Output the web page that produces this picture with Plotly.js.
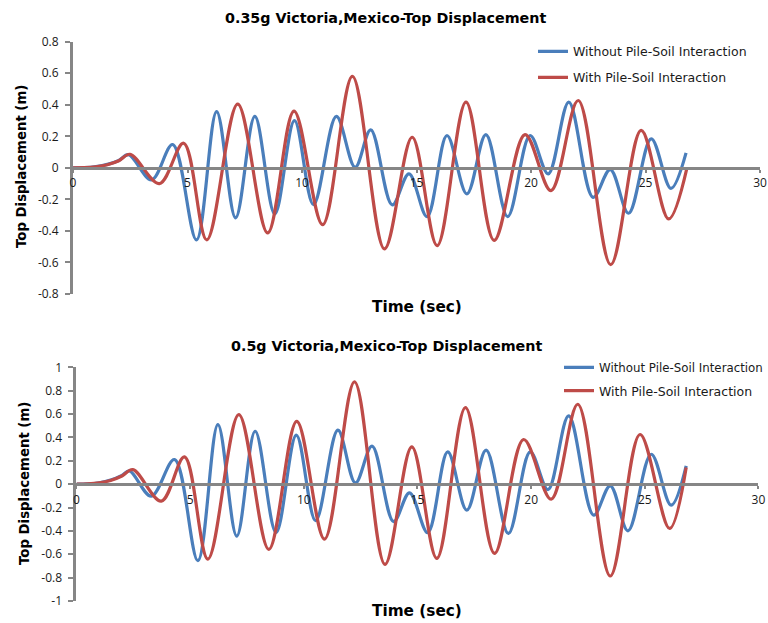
<!DOCTYPE html>
<html>
<head>
<meta charset="utf-8">
<script src="https://cdn.plot.ly/plotly-3.0.1.min.js"></script>
<style>html,body{margin:0;padding:0;background:#fff;}#chart{width:768px;height:623px;}</style>
</head>
<body>
<div id="chart"></div>
<script>
// ---- Data (time in s, displacement in m) ----
// Chart 1: 0.35g
var topWithoutT = [0, 0.5, 1, 1.5, 2, 2.42, 3.43, 4.35, 5.39, 6.27, 7.1, 7.94, 8.81, 9.67, 10.5, 11.5, 12.32, 13.0, 13.94, 14.67, 15.46, 16.33, 17.2, 18.03, 18.98, 19.96, 20.75, 21.65, 22.71, 23.46, 24.26, 25.25, 26.11, 26.77];
var topWithoutV = [0, 0.001, 0.008, 0.022, 0.047, 0.083, -0.076, 0.148, -0.457, 0.357, -0.317, 0.326, -0.292, 0.30, -0.233, 0.326, 0.004, 0.241, -0.235, -0.038, -0.31, 0.205, -0.165, 0.211, -0.309, 0.205, -0.038, 0.417, -0.187, -0.011, -0.288, 0.184, -0.13, 0.095];
var topWithT = [0, 0.5, 1, 1.5, 2, 2.49, 3.77, 4.83, 5.84, 7.19, 8.5, 9.65, 10.9, 12.2, 13.6, 14.81, 15.9, 17.16, 18.39, 19.74, 20.87, 22.06, 23.48, 24.81, 26.01, 26.81];
var topWithV = [0, 0.001, 0.007, 0.02, 0.045, 0.086, -0.10, 0.156, -0.457, 0.404, -0.413, 0.36, -0.36, 0.58, -0.514, 0.194, -0.493, 0.417, -0.46, 0.211, -0.144, 0.427, -0.614, 0.237, -0.324, 0.0];

// Chart 2: 0.5g
var botWithoutT = [0, 0.5, 1, 1.5, 2, 2.33, 3.29, 4.31, 5.34, 6.22, 7.05, 7.86, 8.78, 9.67, 10.52, 11.5, 12.27, 13.0, 13.95, 14.65, 15.45, 16.33, 17.17, 18.02, 19.0, 19.96, 20.74, 21.65, 22.75, 23.48, 24.26, 25.28, 26.16, 26.82];
var botWithoutV = [0, 0.002, 0.012, 0.035, 0.075, 0.114, -0.103, 0.211, -0.655, 0.51, -0.444, 0.453, -0.413, 0.419, -0.313, 0.462, 0.011, 0.325, -0.32, -0.074, -0.416, 0.276, -0.222, 0.291, -0.422, 0.276, -0.046, 0.584, -0.265, -0.014, -0.399, 0.256, -0.18, 0.157];
var botWithT = [0, 0.5, 1, 1.5, 2, 2.48, 3.73, 4.75, 5.78, 7.14, 8.46, 9.69, 10.91, 12.23, 13.57, 14.75, 15.85, 17.11, 18.39, 19.67, 20.88, 22.05, 23.48, 24.79, 26.09, 26.82];
var botWithV = [0, 0.002, 0.011, 0.032, 0.07, 0.125, -0.145, 0.233, -0.641, 0.595, -0.558, 0.538, -0.47, 0.875, -0.687, 0.319, -0.635, 0.655, -0.593, 0.382, -0.128, 0.684, -0.786, 0.425, -0.379, 0.143];

var seriesNames = ['Without Pile-Soil Interaction', 'With Pile-Soil Interaction'];
var chartTitles = ['0.35g Victoria,Mexico-Top Displacement', '0.5g Victoria,Mexico-Top Displacement'];
var xTitle = 'Time (sec)';
var yTitle = 'Top Displacement (m)';
var xTickVals = [0, 5, 10, 15, 20, 25, 30];
var yTickVals1 = [-0.8, -0.6, -0.4, -0.2, 0, 0.2, 0.4, 0.6, 0.8];
var yTickText1 = ['-0.8', '-0.6', '-0.4', '-0.2', '0', '0.2', '0.4', '0.6', '0.8'];
var yTickVals2 = [-1, -0.8, -0.6, -0.4, -0.2, 0, 0.2, 0.4, 0.6, 0.8, 1];
var yTickText2 = ['-1', '-0.8', '-0.6', '-0.4', '-0.2', '0', '0.2', '0.4', '0.6', '0.8', '1'];

// ---- Styles ----
var BLUE = '#4A7EBB', RED = '#BE4B48', AXIS = '#868686';
var FONT = 'Open Sans, Liberation Sans, sans-serif';
var TFONT = 'DejaVu Sans, sans-serif';

function line(t, v, name, color, xa, ya, leg) {
  return {x: t, y: v, name: name, type: 'scatter', mode: 'lines', xaxis: xa, yaxis: ya,
    legend: leg, line: {color: color, width: 3.2, shape: 'spline', smoothing: 1}, hoverinfo: 'skip'};
}

var data = [
  line(topWithoutT, topWithoutV, seriesNames[0], BLUE, 'x', 'y', 'legend'),
  line(topWithT, topWithV, seriesNames[1], RED, 'x', 'y', 'legend2'),
  line(botWithoutT, botWithoutV, seriesNames[0], BLUE, 'x2', 'y2', 'legend3'),
  line(botWithT, botWithV, seriesNames[1], RED, 'x2', 'y2', 'legend4')
];

var D1 = [0.5281, 0.9331], D2 = [0.0353, 0.4104];

function xax(domain, pos) {
  return {domain: domain, range: [0, 30], anchor: 'free', position: pos,
    tickmode: 'array', tickvals: xTickVals, showline: true, linecolor: AXIS, linewidth: 3,
    ticks: 'outside', ticklen: 3, tickwidth: 2, tickcolor: AXIS, showgrid: false, zeroline: false,
    tickfont: {family: FONT, size: 12, color: '#1a1a1a'}, fixedrange: true};
}
function yax(domain, anchor, range, vals, text) {
  return {domain: domain, range: range, anchor: anchor, tickmode: 'array', tickvals: vals, ticktext: text,
    showline: true, linecolor: AXIS, linewidth: 3, ticks: 'outside', ticklen: 5, tickwidth: 2,
    tickcolor: AXIS, showgrid: false, zeroline: false, ticklabelstandoff: 4,
    tickfont: {family: FONT, size: 12, color: '#1a1a1a'}, fixedrange: true};
}
function leg(x, y, size) {
  return {x: x, y: y, xanchor: 'left', yanchor: 'middle', bgcolor: 'rgba(0,0,0,0)', borderwidth: 0,
    font: {family: TFONT, size: size, color: '#1a1a1a'}, itemwidth: 30};
}
function ann(text, x, y, size, angle) {
  return {text: text, x: x, y: y, xref: 'paper', yref: 'paper', showarrow: false,
    xanchor: 'center', yanchor: 'middle', textangle: angle || 0,
    font: {family: TFONT, size: size, color: '#000', weight: 'bold'}};
}

var layout = {
  width: 768, height: 623,
  margin: {l: 0, r: 0, t: 0, b: 0, pad: 0, autoexpand: false},
  paper_bgcolor: '#fff', plot_bgcolor: 'rgba(0,0,0,0)',
  showlegend: true,
  xaxis: xax([0.0951, 0.9896], (D1[0] + D1[1]) / 2),
  yaxis: yax(D1, 'x', [-0.8, 0.8], yTickVals1, yTickText1),
  xaxis2: xax([0.0996, 0.9876], (D2[0] + D2[1]) / 2),
  yaxis2: yax(D2, 'x2', [-1, 1], yTickVals2, yTickText2),
  legend: leg(533 / 768, 1 - 51.7 / 623, 12.5),
  legend2: leg(533 / 768, 1 - 77.7 / 623, 12.5),
  legend3: leg(559 / 768, 1 - 367.3 / 623, 11.8),
  legend4: leg(559 / 768, 1 - 391 / 623, 12.5),
  annotations: [
    ann(chartTitles[0], 385 / 768, 1 - 18 / 623, 14.3),
    ann(chartTitles[1], 386 / 768, 1 - 346 / 623, 14.3),
    ann(xTitle, 417 / 768, 1 - 307 / 623, 15.3),
    ann(xTitle, 417 / 768, 1 - 611 / 623, 15.3),
    ann(yTitle, 21 / 768, 1 - 167 / 623, 13.3, -90),
    ann(yTitle, 24 / 768, 1 - 484 / 623, 13.3, -90)
  ]
};

Plotly.newPlot('chart', data, layout, {displayModeBar: false, staticPlot: true});
</script>
</body>
</html>
